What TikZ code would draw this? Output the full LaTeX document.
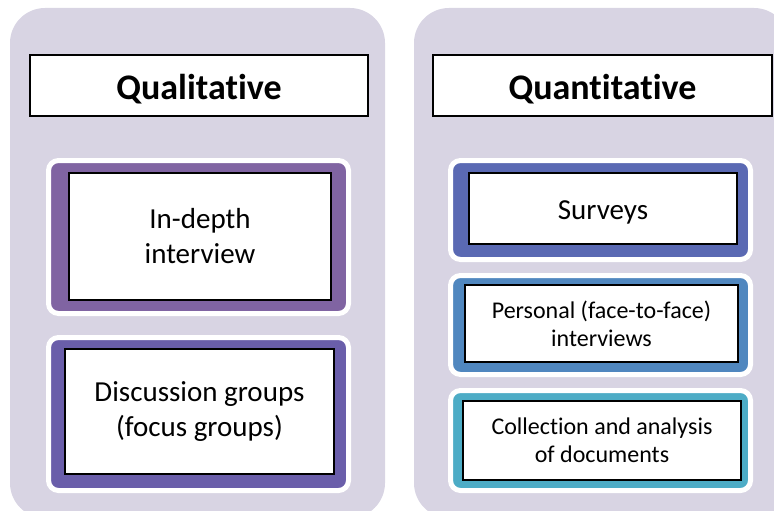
\documentclass[tikz,border=0pt]{standalone}
\usepackage{fontspec}
\setmainfont{Carlito}[RawFeature={-liga}]
\definecolor{panelbg}{HTML}{D8D4E3}
\definecolor{cA}{HTML}{8064A2}
\definecolor{cB}{HTML}{6A5EAA}
\definecolor{cC}{HTML}{5A69B3}
\definecolor{cD}{HTML}{5087BF}
\definecolor{cE}{HTML}{4DACC6}
\tikzset{
  panel/.style={fill=panelbg, rounded corners=35pt},
  titlebox/.style={draw=black, line width=1.6pt, fill=white, inner sep=0pt, align=center,
    font=\fontsize{36}{42}\selectfont\bfseries},
  frame/.style={draw=white, line width=5pt, fill=#1, rounded corners=10pt, inner sep=0pt},
  itembox/.style={draw=black, line width=1.6pt, fill=white, inner sep=0pt, align=center,
    font=\fontsize{29}{35}\selectfont},
  smallbox/.style={itembox, font=\fontsize{24}{28}\selectfont}
}
\begin{document}
\begin{tikzpicture}[x=1pt,y=-1pt]
\useasboundingbox (0,0) rectangle (774,511);
\begin{scope}
\clip (0,0) rectangle (774,511);
\fill[panel] (10,8) rectangle (385,518);
\fill[panel] (414,8) rectangle (789,518);
\end{scope}
% titles
\node[titlebox, minimum width=338pt, minimum height=61pt] (qual) at (199,85.5) {\rule{0pt}{33pt}Qualitative};
\node[titlebox, minimum width=339pt, minimum height=61pt] (quant) at (602.5,85.5) {\rule{0pt}{33pt}Quantitative};
% left items
\node[frame=cA, minimum width=300pt, minimum height=153pt] (f1) at (198.5,237) {};
\node[itembox, minimum width=262pt, minimum height=127pt] (b1) at (200,236.5) {In-depth\\interview};
\node[frame=cB, minimum width=300pt, minimum height=153pt] (f2) at (198.5,414) {};
\node[itembox, minimum width=269pt, minimum height=125pt] (b2) at (199.5,411.5) {Discussion groups\\(focus groups)};
% right items
\node[frame=cC, minimum width=300pt, minimum height=99pt] (f3) at (600.5,210) {};
\node[itembox, minimum width=268pt, minimum height=71pt] (b3) at (603,208.5) {\rule{0pt}{26pt}Surveys};
\node[frame=cD, minimum width=300pt, minimum height=99pt] (f4) at (600.5,325) {};
\node[smallbox, minimum width=273pt, minimum height=77pt] (b4) at (601.5,323.5) {Personal (face-to-face)\\interviews};
\node[frame=cE, minimum width=300pt, minimum height=100pt] (f5) at (600.5,440.5) {};
\node[smallbox, minimum width=278pt, minimum height=79pt] (b5) at (602,440.5) {Collection and analysis\\of documents};
\end{tikzpicture}
\end{document}
